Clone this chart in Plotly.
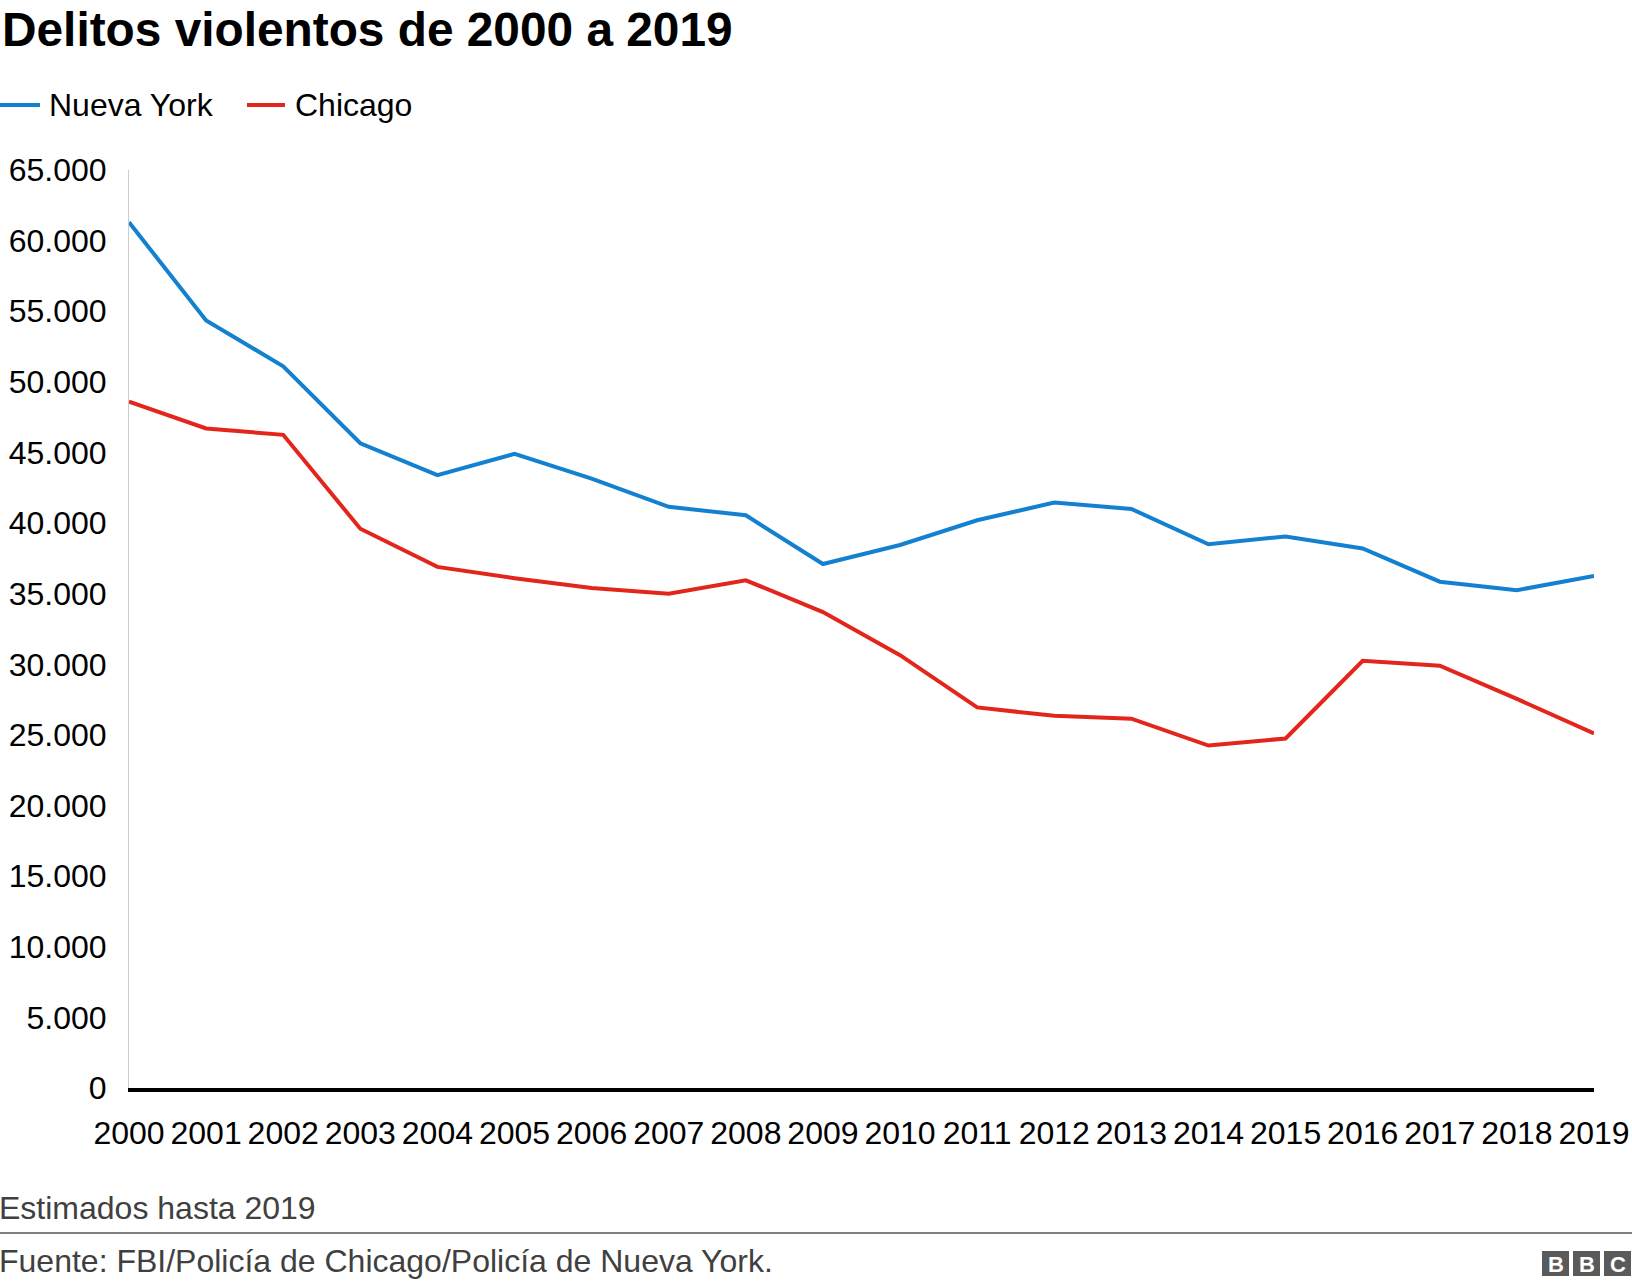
import plotly.graph_objects as go

# ---------------- data ----------------
years = list(range(2000, 2020))
nueva_york = [61300, 54350, 51100, 45650, 43400, 44900, 43150, 41150, 40550, 37100,
              38450, 40200, 41450, 41000, 38500, 39050, 38200, 35850, 35250, 36250]
chicago = [48600, 46700, 46250, 39600, 36900, 36100, 35400, 35000, 35950, 33700,
           30650, 26950, 26350, 26150, 24250, 24750, 30250, 29900, 27550, 25100]
y_ticks = list(range(0, 65001, 5000))

title_text = "Delitos violentos de 2000 a 2019"
series_names = ["Nueva York", "Chicago"]
note_text = "Estimados hasta 2019"
source_text = "Fuente: FBI/Policía de Chicago/Policía de Nueva York."

# ---------------- style ----------------
BLUE = "#1380D0"
RED = "#E3261C"
FONT = "Liberation Sans, Arial, Helvetica, sans-serif"
W, H = 1632, 1288
L, R, T, B = 129, 38, 170, 200
PW, PH = W - L - R, H - T - B


def px(x):
    return (x - L) / PW


def py(y):
    return 1 - (y - T) / PH


fig = go.Figure()
fig.add_trace(go.Scatter(x=years, y=nueva_york, mode="lines", name=series_names[0],
                         line=dict(color=BLUE, width=4), showlegend=False))
fig.add_trace(go.Scatter(x=years, y=chicago, mode="lines", name=series_names[1],
                         line=dict(color=RED, width=4), showlegend=False))

shapes = []
annotations = []

# title
annotations.append(dict(x=px(0), y=py(29), xref="paper", yref="paper", xanchor="left",
                        yanchor="middle", showarrow=False, text="<b>" + title_text + "</b>",
                        font=dict(size=47.8, color="#000000", family=FONT)))

# legend (manual)
leg_y = 105
for (lx0, lx1, tx), name, col in zip([(0, 40, 47), (247, 285, 293)], series_names, [BLUE, RED]):
    shapes.append(dict(type="line", xref="paper", yref="paper", x0=px(lx0), x1=px(lx1),
                       y0=py(leg_y), y1=py(leg_y), line=dict(color=col, width=4)))
    annotations.append(dict(x=px(tx), y=py(leg_y), xref="paper", yref="paper", xanchor="left",
                            yanchor="middle", showarrow=False, text=name,
                            font=dict(size=32, color="#000000", family=FONT)))

# footer
annotations.append(dict(x=px(-3), y=py(1208), xref="paper", yref="paper", xanchor="left",
                        yanchor="middle", showarrow=False, text=note_text,
                        font=dict(size=32, color="#404040", family=FONT)))
shapes.append(dict(type="line", xref="paper", yref="paper", x0=px(0), x1=px(W),
                   y0=py(1233), y1=py(1233), line=dict(color="#808080", width=2)))
annotations.append(dict(x=px(-3), y=py(1261), xref="paper", yref="paper", xanchor="left",
                        yanchor="middle", showarrow=False, text=source_text,
                        font=dict(size=32, color="#404040", family=FONT)))

# BBC logo
for bx, letter in zip([1542, 1573, 1604], ["B", "B", "C"]):
    shapes.append(dict(type="rect", xref="paper", yref="paper", x0=px(bx), x1=px(bx + 27),
                       y0=py(1276), y1=py(1251), fillcolor="#5a5a5a", line=dict(width=0)))
    annotations.append(dict(x=px(bx + 13.5), y=py(1264), xref="paper", yref="paper",
                            xanchor="center", yanchor="middle", showarrow=False,
                            text="<b>" + letter + "</b>",
                            font=dict(size=22, color="#ffffff", family=FONT)))

fig.update_layout(
    width=W, height=H,
    margin=dict(l=L, r=R, t=T, b=B, pad=0, autoexpand=False),
    paper_bgcolor="white", plot_bgcolor="white",
    separators=",.",
    font=dict(family=FONT, size=32, color="#000000"),
    showlegend=False,
    shapes=shapes,
    annotations=annotations,
    xaxis=dict(range=[2000, 2019], tickmode="array", tickvals=years,
               ticktext=[str(y) for y in years], showgrid=False, zeroline=False,
               showline=True, linecolor="#000000", linewidth=4, ticks="",
               automargin=False,
               ticklabelstandoff=14, tickfont=dict(size=32, color="#000000", family=FONT)),
    yaxis=dict(range=[0, 65000], tickmode="array", tickvals=y_ticks, tickformat=",",
               showgrid=False, zeroline=False, showline=True, linecolor="#cccccc",
               linewidth=1, ticks="", ticklabelstandoff=15, automargin=False,
               tickfont=dict(size=32, color="#000000", family=FONT)),
)

fig.write_html("out.html", config={"displayModeBar": False},
               post_script="document.body.style.margin='0';")
